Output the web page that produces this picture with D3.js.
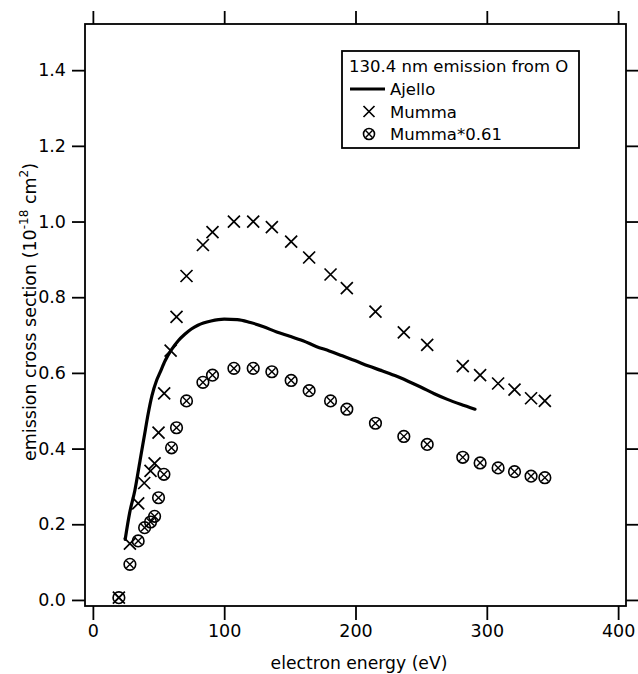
<!DOCTYPE html>
<html>
<head>
<meta charset="utf-8">
<script src="https://cdn.jsdelivr.net/npm/d3@7"></script>
<style>
  body { margin: 0; background: #fff; }
  svg { display: block; font-family: "DejaVu Sans", sans-serif; }
</style>
</head>
<body>
<svg id="chart" width="638" height="674"></svg>
<script>
"use strict";

// Ajello curve (energy eV, cross section 1e-18 cm2)
var ajelloE = [24.6, 28, 32, 36, 40, 42, 45, 48.5, 51, 55, 60, 65, 70, 75, 80, 90, 100, 110, 120, 130,
  140, 150, 160, 170, 180, 190, 200, 210, 220, 230, 240, 250, 260, 270, 280, 291];
var ajelloS = [0.16, 0.23, 0.29, 0.37, 0.45, 0.49, 0.54, 0.58, 0.60, 0.632, 0.662, 0.685, 0.702, 0.716, 0.726, 0.737, 0.742, 0.741, 0.733, 0.722,
  0.708, 0.697, 0.685, 0.670, 0.658, 0.645, 0.632, 0.618, 0.606, 0.593, 0.578, 0.562, 0.545, 0.530, 0.517, 0.504];

// Mumma points
var mummaE = [19.8, 28.2, 34.5, 39.1, 43.9, 47.0, 50.0, 54.3, 59.2, 63.7, 71.3, 83.8, 91.1, 107.4, 122.1,
  136.3, 151.0, 164.7, 181.0, 193.4, 215.2, 236.8, 254.6, 281.7, 294.9, 308.6, 321.1, 333.7, 344.2];
var mummaS = [0.006, 0.149, 0.255, 0.309, 0.341, 0.361, 0.442, 0.546, 0.659, 0.748, 0.856, 0.938, 0.972, 1.000, 1.000,
  0.985, 0.947, 0.905, 0.860, 0.824, 0.762, 0.707, 0.674, 0.618, 0.594, 0.572, 0.556, 0.533, 0.526];

// Mumma*0.61 points
var scaledE = [19.8, 28.2, 34.5, 39.4, 43.9, 47.0, 50.0, 54.1, 59.9, 63.7, 71.3, 83.8, 91.1, 107.4, 122.1,
  136.3, 151.0, 164.7, 181.0, 193.4, 215.2, 236.8, 254.6, 281.7, 294.9, 308.6, 321.1, 333.7, 344.2];
var scaledS = [0.006, 0.094, 0.156, 0.191, 0.206, 0.221, 0.270, 0.332, 0.402, 0.455, 0.526, 0.575, 0.594, 0.612, 0.612,
  0.603, 0.580, 0.553, 0.526, 0.504, 0.467, 0.432, 0.411, 0.377, 0.362, 0.349, 0.339, 0.327, 0.323];

var xTicks = [0, 100, 200, 300, 400];
var yTicks = [0.0, 0.2, 0.4, 0.6, 0.8, 1.0, 1.2, 1.4];
var legendTitle = "130.4 nm emission from O";
var legendNames = ["Ajello", "Mumma", "Mumma*0.61"];

var svg = d3.select('#chart');
var pLeft = 85, pRight = 626, pTop = 24, pBottom = 606;

var x = d3.scaleLinear().domain([-6, 406]).range([pLeft, pRight]);
var y = d3.scaleLinear().domain([-0.016, 1.522]).range([pBottom, pTop]);

// axes - ticks outward on all four sides, labels only bottom/left
function styleAxis(g) {
  g.select('.domain').remove();
  g.selectAll('.tick line').attr('stroke', '#000').attr('stroke-width', 1.8);
  g.selectAll('.tick text').attr('fill', '#000');
}

svg.append('g')
  .attr('transform', 'translate(0,' + pBottom + ')')
  .call(d3.axisBottom(x).tickValues(xTicks).tickSize(14).tickPadding(5).tickFormat(d3.format('d')))
  .call(styleAxis)
  .selectAll('text').attr('font-size', 17.5).attr('font-family', '"DejaVu Sans", sans-serif');

svg.append('g')
  .attr('transform', 'translate(0,' + pTop + ')')
  .call(d3.axisTop(x).tickValues(xTicks).tickSize(13).tickFormat(''))
  .call(styleAxis);

svg.append('g')
  .attr('transform', 'translate(' + pLeft + ',0)')
  .call(d3.axisLeft(y).tickValues(yTicks).tickSize(13).tickPadding(6).tickFormat(d3.format('.1f')))
  .call(styleAxis)
  .selectAll('text').attr('font-size', 17.5).attr('font-family', '"DejaVu Sans", sans-serif');

svg.append('g')
  .attr('transform', 'translate(' + pRight + ',0)')
  .call(d3.axisRight(y).tickValues(yTicks).tickSize(12).tickFormat(''))
  .call(styleAxis);

// frame
svg.append('rect')
  .attr('x', pLeft).attr('y', pTop)
  .attr('width', pRight - pLeft).attr('height', pBottom - pTop)
  .attr('fill', 'none').attr('stroke', '#000').attr('stroke-width', 1.8);

// axis titles
svg.append('text')
  .attr('x', 359).attr('y', 669)
  .attr('text-anchor', 'middle').attr('font-size', 17.2)
  .text('electron energy (eV)');

var yt = svg.append('text')
  .attr('transform', 'translate(36,' + 312 + ') rotate(-90)')
  .attr('text-anchor', 'middle').attr('font-size', 17.5);
yt.append('tspan').text('emission cross section (10');
yt.append('tspan').attr('dy', -8).attr('font-size', 12).text('-18');
yt.append('tspan').attr('dy', 8).text(' cm');
yt.append('tspan').attr('dy', -8).attr('font-size', 12).text('2');
yt.append('tspan').attr('dy', 8).text(')');

// marker helpers
function cross(g, s) {
  g.append('path')
    .attr('d', 'M' + (-s) + ',' + (-s) + 'L' + s + ',' + s + 'M' + (-s) + ',' + s + 'L' + s + ',' + (-s))
    .attr('stroke', '#000').attr('stroke-width', 1.7).attr('fill', 'none');
}
function circX(g, r) {
  g.append('circle').attr('r', r).attr('fill', 'none').attr('stroke', '#000').attr('stroke-width', 1.6);
  var s = r * 0.62;
  g.append('path')
    .attr('d', 'M' + (-s) + ',' + (-s) + 'L' + s + ',' + s + 'M' + (-s) + ',' + s + 'L' + s + ',' + (-s))
    .attr('stroke', '#000').attr('stroke-width', 1.4);
}

// Ajello line
var line = d3.line()
  .x(i => x(ajelloE[i]))
  .y(i => y(ajelloS[i]))
  .curve(d3.curveMonotoneX);

svg.append('path')
  .datum(d3.range(ajelloE.length))
  .attr('d', line)
  .attr('fill', 'none').attr('stroke', '#000').attr('stroke-width', 3.2)
  .attr('stroke-linecap', 'round');

// Mumma crosses
svg.selectAll('g.mumma')
  .data(d3.range(mummaE.length))
  .enter().append('g')
  .attr('class', 'mumma')
  .attr('transform', i => 'translate(' + x(mummaE[i]) + ',' + y(mummaS[i]) + ')')
  .each(function() { cross(d3.select(this), 6); });

// Mumma*0.61 circled crosses
svg.selectAll('g.scaled')
  .data(d3.range(scaledE.length))
  .enter().append('g')
  .attr('class', 'scaled')
  .attr('transform', i => 'translate(' + x(scaledE[i]) + ',' + y(scaledS[i]) + ')')
  .each(function() { circX(d3.select(this), 5.8); });

// legend
var lg = svg.append('g').attr('transform', 'translate(342,51)');
lg.append('rect')
  .attr('width', 237).attr('height', 97)
  .attr('fill', '#fff').attr('stroke', '#000').attr('stroke-width', 1.8);
lg.append('text').attr('x', 7).attr('y', 21).attr('font-size', 16.5).text(legendTitle);
legendNames.forEach(function(name, i) {
  var cy = 38 + i * 22.5;
  var item = lg.append('g').attr('transform', 'translate(27,' + cy + ')');
  if (i === 0) {
    item.append('line').attr('x1', -19).attr('x2', 16).attr('stroke', '#000').attr('stroke-width', 3.2);
  } else if (i === 1) {
    cross(item, 5.5);
  } else {
    circX(item, 5.5);
  }
  lg.append('text').attr('x', 48).attr('y', cy + 6).attr('font-size', 16.5).text(name);
});
</script>
</body>
</html>
